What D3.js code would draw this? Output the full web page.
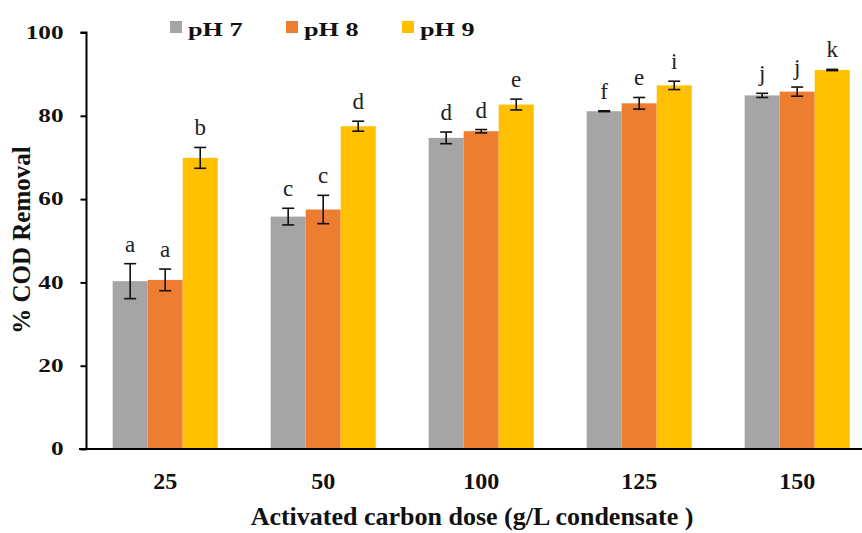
<!DOCTYPE html>
<html>
<head>
<meta charset="utf-8">
<script src="https://cdn.jsdelivr.net/npm/d3@7"></script>
<style>
  body { margin: 0; background: #fff; }
  svg { display: block; }
  text { font-family: "Liberation Serif", "Times New Roman", serif; }
</style>
</head>
<body>
<svg id="chart" width="862" height="533"></svg>
<script>
const categories = ["25", "50", "100", "125", "150"];
const seriesNames = ["pH 7", "pH 8", "pH 9"];
const seriesColors = ["#A5A5A5", "#ED7D31", "#FFC000"];
const ph7 = [40.3, 55.8, 74.7, 81.1, 84.9];
const ph8 = [40.6, 57.5, 76.3, 83.0, 85.8];
const ph9 = [69.9, 77.5, 82.7, 87.3, 91.0];
const err7 = [4.2, 2.0, 1.4, 0.1, 0.5];
const err8 = [2.6, 3.4, 0.4, 1.4, 1.1];
const err9 = [2.5, 1.2, 1.3, 1.0, 0.15];
const letters7 = ["a", "c", "d", "f", "j"];
const letters8 = ["a", "c", "d", "e", "j"];
const letters9 = ["b", "d", "e", "i", "k"];
const yTicks = [0, 20, 40, 60, 80, 100];
const yTitle = "% COD Removal";
const xTitle = "Activated carbon dose (g/L condensate )";

const values = [ph7, ph8, ph9];
const errors = [err7, err8, err9];
const letters = [letters7, letters8, letters9];

const svg = d3.select("#chart");

const y = d3.scaleLinear().domain([0, 100]).range([449, 32.5]);
const x0 = d3.scaleBand().domain(categories).range([86.2, 876.2])
  .paddingInner(0.335).paddingOuter(0.1675);
const x1 = d3.scaleBand().domain(seriesNames).range([0, x0.bandwidth()]).padding(0);

const rows = [];
categories.forEach((c, i) => {
  seriesNames.forEach((s, j) => {
    rows.push({cat: c, s: s, j: j, v: values[j][i], e: errors[j][i], l: letters[j][i]});
  });
});

// bars
svg.append("g").selectAll("rect").data(rows).join("rect")
  .attr("x", d => x0(d.cat) + x1(d.s))
  .attr("y", d => y(d.v))
  .attr("width", x1.bandwidth())
  .attr("height", d => y(0) - y(d.v))
  .attr("fill", d => seriesColors[d.j]);

// error bars
const cap = 6;
const eg = svg.append("g").attr("stroke", "#111").attr("stroke-width", 1.6);
rows.forEach(d => {
  const cx = x0(d.cat) + x1(d.s) + x1.bandwidth() / 2;
  const yt = y(d.v + d.e), yb = y(d.v - d.e);
  eg.append("line").attr("x1", cx).attr("x2", cx).attr("y1", yt).attr("y2", yb);
  eg.append("line").attr("x1", cx - cap).attr("x2", cx + cap).attr("y1", yt).attr("y2", yt);
  eg.append("line").attr("x1", cx - cap).attr("x2", cx + cap).attr("y1", yb).attr("y2", yb);
});

// letters
svg.append("g").selectAll("text").data(rows).join("text")
  .attr("x", d => x0(d.cat) + x1(d.s) + x1.bandwidth() / 2)
  .attr("y", d => y(d.v + d.e) - 12)
  .attr("text-anchor", "middle")
  .attr("font-family", "Liberation Serif")
  .attr("font-size", 23)
  .attr("fill", "#222")
  .text(d => d.l);

// y axis
const yAxis = svg.append("g").attr("transform", "translate(86.5,0)")
  .call(d3.axisLeft(y).tickValues(yTicks).tickSize(6).tickPadding(17));
yAxis.select(".domain").attr("stroke", "#000").attr("stroke-width", 2)
  .attr("d", `M-6,${y(100)}H0V${y(0)}`);
yAxis.selectAll(".tick line").attr("stroke", "#000").attr("stroke-width", 2);
yAxis.selectAll(".tick text")
  .attr("font-family", "Liberation Serif").attr("font-weight", "bold")
  .attr("font-size", 18).attr("fill", "#111")
  .each(function() {
    const w = this.getComputedTextLength();
    d3.select(this).attr("textLength", w * 1.4).attr("lengthAdjust", "spacingAndGlyphs");
  });

// x axis
const xAxis = svg.append("g").attr("transform", `translate(0,${y(0)})`)
  .call(d3.axisBottom(x0).tickSize(0).tickPadding(23));
xAxis.select(".domain").attr("stroke", "#000").attr("stroke-width", 2)
  .attr("d", "M79,0H862");
xAxis.selectAll(".tick text")
  .attr("font-family", "Liberation Serif").attr("font-weight", "bold")
  .attr("font-size", 24).attr("fill", "#111");

// axis titles
svg.append("text")
  .attr("transform", "translate(30,240) rotate(-90)")
  .attr("text-anchor", "middle")
  .attr("font-family", "Liberation Serif")
  .attr("font-weight", "bold").attr("font-size", 25).attr("fill", "#111")
  .text(yTitle);
svg.append("text")
  .attr("x", 472).attr("y", 525)
  .attr("text-anchor", "middle")
  .attr("font-family", "Liberation Serif")
  .attr("font-weight", "bold").attr("font-size", 26).attr("fill", "#111")
  .text(xTitle);

// legend
const legendX = [170, 286, 402];
const lg = svg.append("g");
seriesNames.forEach((s, j) => {
  lg.append("rect").attr("x", legendX[j]).attr("y", 21).attr("width", 12).attr("height", 12)
    .attr("fill", seriesColors[j]);
  const t = lg.append("text").attr("x", legendX[j] + 18).attr("y", 36)
    .attr("font-family", "Liberation Serif")
    .attr("font-weight", "bold").attr("font-size", 19).attr("fill", "#111").text(s);
  const w = t.node().getComputedTextLength();
  t.attr("textLength", w * 1.38).attr("lengthAdjust", "spacingAndGlyphs");
});
</script>
</body>
</html>
